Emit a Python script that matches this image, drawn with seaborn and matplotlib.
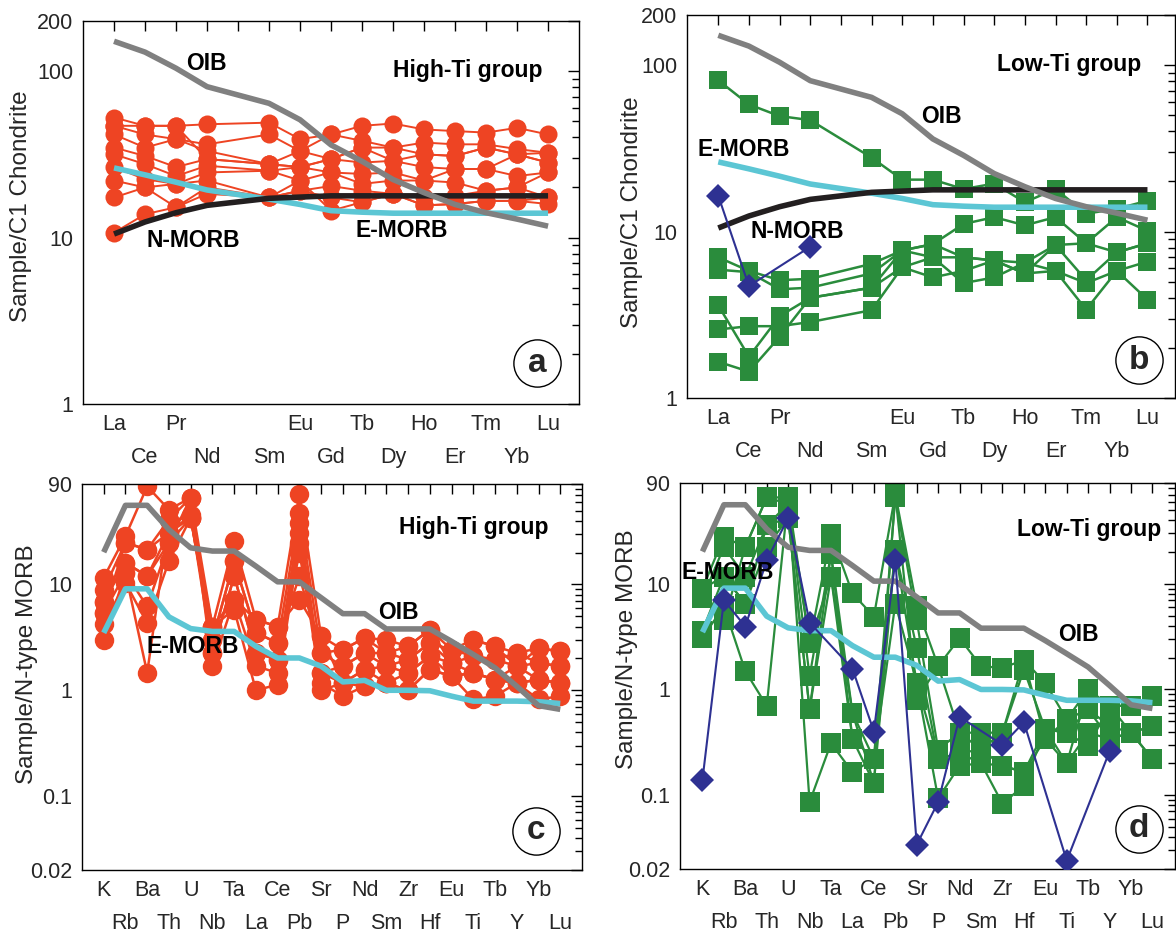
import numpy as np
import pandas as pd
import matplotlib
matplotlib.use('Agg')
import matplotlib.pyplot as plt
import seaborn as sns
from matplotlib.ticker import FixedLocator, FixedFormatter, LogLocator, NullFormatter

nan = np.nan

# ---------------- categories ----------------
REE_TICKS = ['La', 'Ce', 'Pr', 'Nd', '', 'Sm', 'Eu', 'Gd', 'Tb', 'Dy', 'Ho', 'Er', 'Tm', 'Yb', 'Lu']
REE = ['La', 'Ce', 'Pr', 'Nd', 'Sm', 'Eu', 'Gd', 'Tb', 'Dy', 'Ho', 'Er', 'Tm', 'Yb', 'Lu']
SPIDER = ['K', 'Rb', 'Ba', 'Th', 'U', 'Nb', 'Ta', 'La', 'Ce', 'Pb', 'Sr', 'P', 'Nd', 'Sm',
          'Zr', 'Hf', 'Eu', 'Ti', 'Tb', 'Y', 'Yb', 'Lu']

# ---------------- reference curves ----------------
OIB_REE = [151, 130, 104, 80.6, 64, 51, 36, 28.7, 22.3, 18.6, 15.8, 14.1, 12.9, 11.7]
EMORB_REE = [26.2, 23.8, 21.5, 19.3, 17.0, 15.8, 14.5, 14.2, 14.0, 14.0, 14.0, 14.0, 14.0, 14.0]
NMORB_REE = [10.5, 12.4, 14.1, 15.6, 17.2, 17.5, 17.8, 17.8, 17.8, 17.8, 17.8, 17.8, 17.8, 17.8]

OIB_SPIDER = [20.2, 56, 56, 33, 22.2, 20.7, 20.7, 14.9, 10.6, 10.6, 7.5, 5.3, 5.3, 3.8,
              3.8, 3.8, 2.9, 2.18, 1.63, 1.09, 0.716, 0.66]
EMORB_SPIDER = [3.49, 9.1, 9.1, 4.94, 3.83, 3.6, 3.6, 2.6, 2.02, 2.02, 1.69, 1.2, 1.24, 1.0,
                1.0, 0.99, 0.88, 0.79, 0.79, 0.79, 0.78, 0.75]

# ---------------- samples: chondrite-normalised REE ----------------
HIGH_TI_REE = [
    [52.6, 46.9, 46.9, 47.9, 49.0, 39.0, 41.6, 46.9, 48.4, 44.6, 43.6, 42.7, 45.6, 41.6],
    [46.9, 41.6, 39.0, 36.3, 41.6, 33.1, 41.6, 38.1, 34.7, 37.2, 36.3, 36.3, 34.0, 32.3],
    [41.6, 34.7, 39.0, 33.1, 27.6, 33.1, 29.6, 34.7, 34.7, 31.6, 30.9, 34.7, 31.6, 28.2],
    [34.7, 30.9, 26.5, 29.6, 27.6, 26.5, 29.6, 28.2, 28.9, 26.5, 25.8, 25.8, 31.6, 28.2],
    [31.6, 27.6, 23.4, 27.0, 25.2, 26.5, 24.6, 24.1, 24.6, 22.0, 25.8, 25.8, 23.4, 24.6],
    [26.5, 22.4, 21.0, 24.6, 25.2, 22.0, 24.6, 21.0, 22.0, 22.0, 21.4, 19.1, 20.0, 24.6],
    [22.0, 20.0, 21.0, 22.0, 17.4, 19.1, 20.4, 19.1, 18.3, 17.4, 17.8, 19.1, 20.0, 17.4],
    [17.4, 20.0, 15.2, 20.0, 17.4, 19.1, 17.4, 16.3, 18.3, 15.6, 15.9, 16.6, 16.6, 15.9],
    [10.7, 13.8, 15.2, 18.3, 17.4, 22.0, 14.5, 16.3, 18.3, 15.6, 15.9, 16.6, 16.6, 17.4],
    [46.9, 46.9, 46.9, 29.6, 27.6, 26.5, 29.6, 34.7, 28.9, 31.6, 30.9, 34.7, 31.6, 32.3],
]
LOW_TI_REE = [
    [81.0, 58.0, 49.4, 46.7, 27.8, 20.5, 20.5, 18.0, 19.4, 15.0, 18.0, 12.8, 13.7, 15.3],
    [7.0, 5.8, 5.1, 5.2, 6.4, 7.7, 8.4, 11.1, 12.2, 10.9, 12.2, 8.5, 12.2, 10.1],
    [5.9, 5.7, 4.5, 4.6, 5.6, 7.7, 7.0, 7.0, 6.7, 6.5, 8.3, 5.1, 7.5, 8.5],
    [3.6, 1.77, 3.1, 4.0, 4.6, 6.1, 5.3, 5.8, 6.7, 5.6, 5.8, 3.4, 5.8, 6.6],
    [2.58, 2.7, 2.7, 2.86, 3.37, 6.1, 7.0, 4.9, 5.3, 6.5, 5.8, 4.9, 5.8, 3.9],
    [1.65, 1.44, 2.33, 4.0, 4.6, 7.7, 8.4, 7.0, 6.7, 5.6, 8.3, 8.5, 7.5, 8.5],
]
LOW_TI_REE_DIAMOND = [16.4, 4.7, nan, 8.1, nan, nan, nan, nan, nan, nan, nan, nan, nan, nan]

# ---------------- samples: N-MORB-normalised trace elements ----------------
HIGH_TI_SPIDER = [
    [11.6, 28.6, 84.6, 51, 66, 4.0, 25.6, 4.66, 4.0, 71, 3.24, 2.42, 3.12, 3.0, 2.6, 3.75, 2.42, 3.0, 2.6, 2.25, 2.5, 2.33],
    [8.95, 24.8, 21.4, 41, 42.6, 3.0, 16.6, 3.5, 2.8, 47.6, 2.25, 1.69, 2.25, 2.25, 1.95, 2.8, 1.81, 2.1, 1.95, 1.69, 1.81, 1.69],
    [6.9, 16, 12, 30.8, 45, 2.25, 12, 2.25, 1.95, 38.4, 1.46, 1.17, 1.57, 1.69, 1.46, 2.1, 1.36, 1.46, 1.26, 1.17, 1.26, 1.17],
    [5.4, 12.8, 6.2, 24.8, 66, 1.69, 7.2, 1.69, 1.46, 30.8, 1.17, 0.88, 1.09, 1.17, 1.0, 1.57, 1.36, 0.82, 0.88, 1.17, 0.82, 0.88],
    [4.2, 10.4, 4.3, 16.6, 42.6, 4.0, 5.8, 1.0, 1.13, 24.8, 1.0, 1.17, 1.57, 1.17, 1.46, 2.1, 1.81, 1.46, 1.26, 1.69, 1.26, 1.17],
    [3.0, 12.8, 1.46, 41, 66, 2.25, 12, 2.25, 1.95, 19.9, 1.46, 1.69, 2.25, 1.69, 1.95, 2.8, 2.42, 2.1, 1.95, 2.25, 1.81, 1.69],
    [6.9, 16, 12, 24.8, 42.6, 3.0, 16.6, 3.5, 2.8, 12, 2.25, 2.42, 3.12, 2.25, 2.6, 3.75, 1.81, 3.0, 2.6, 1.69, 2.5, 2.33],
    [5.4, 24.8, 21.4, 30.8, 42.6, 4.0, 7.2, 4.66, 4.0, 7.2, 3.24, 1.17, 1.09, 1.17, 1.0, 1.57, 1.36, 1.46, 1.26, 1.17, 1.26, 1.17],
]
LOW_TI_SPIDER = [
    [9.0, 27.7, 22.3, 65.7, 65.7, 2.75, 29.7, 8.1, 4.9, 70.8, 6.1, 1.66, 3.06, 1.66, 1.6, 1.9, 1.15, 0.52, 1.0, 0.70, 0.70, 0.87],
    [7.3, 22.3, 11.7, 35.7, 57, 1.33, 19.2, 0.6, 0.22, 65.7, 4.5, 0.27, 0.39, 0.39, 0.39, 1.54, 0.42, 0.39, 0.65, 0.45, 0.39, 0.45],
    [3.6, 11.7, 6.5, 22.3, 42, 0.65, 11.7, 0.34, 0.13, 20.7, 2.46, 0.22, 0.25, 0.27, 0.19, 0.165, 0.34, 0.2, 0.39, 0.34, 0.39, 0.22],
    [3.1, 6.1, 1.49, 0.70, 65.7, 0.086, 0.31, 0.165, 0.22, 6.5, 1.15, 0.093, 0.19, 0.2, 0.083, 0.123, 0.42, 0.39, 0.29, 0.70, 0.70, 0.87],
    [8.0, 4.5, 22.3, 65.7, 57, 2.75, 11.7, 0.6, 0.13, 70.8, 0.8, 1.66, 0.39, 0.27, 0.39, 1.9, 0.34, 0.52, 0.65, 0.34, 0.39, 0.45],
    [9.0, 11.7, 6.5, 35.7, 42, 0.65, 19.2, 0.34, 0.22, 20.7, 1.15, 0.22, 0.25, 0.2, 0.19, 0.165, 0.42, 0.2, 1.0, 0.70, 0.39, 0.22],
]
LOW_TI_SPIDER_DIAMOND = [0.14, 7.0, 3.94, 16.7, 42, 4.3, nan, 1.57, 0.40, 16.7, 0.034, 0.086, 0.55, nan,
                         0.30, 0.49, nan, 0.024, nan, 0.26, nan, nan]

# ---------------- styling ----------------
RED = '#EE4423'
GREEN = '#2A8C3C'
BLUE = '#2E3192'
GRAY = '#808080'
CYAN = '#5CC6D4'
BLACK = '#231F20'

sns.set_style('white')
plt.rcParams['font.family'] = ['Liberation Sans', 'DejaVu Sans']
plt.rcParams['axes.linewidth'] = 1.0
plt.rcParams['axes.edgecolor'] = 'black'

TICK_FS = 15.5
LABEL_FS = 17.5
BOLD_FS = 16.5

fig = plt.figure(figsize=(11.76, 9.36), dpi=100)
ax_a = fig.add_axes([0.0706, 0.5684, 0.4218, 0.4092])
ax_b = fig.add_axes([0.5842, 0.5748, 0.4150, 0.4092])
ax_c = fig.add_axes([0.0697, 0.0705, 0.4252, 0.4129])
ax_d = fig.add_axes([0.5782, 0.0716, 0.4209, 0.4124])

ree_pos = [REE_TICKS.index(e) for e in REE]
spider_pos = list(range(len(SPIDER)))


def longform(rows, positions):
    recs = []
    for i, row in enumerate(rows):
        for p, v in zip(positions, row):
            if np.isfinite(v):
                recs.append({'sample': i, 'pos': p, 'val': v})
    return pd.DataFrame(recs)


def samples(ax, rows, positions, color, marker, ms, lw, z):
    df = longform(rows, positions)
    sns.lineplot(data=df, x='pos', y='val', units='sample', estimator=None, sort=False,
                 color=color, lw=lw, marker=marker, markersize=ms, markeredgecolor=color,
                 markeredgewidth=0, ax=ax, legend=False, zorder=z)


def refline(ax, positions, vals, color, z=3):
    df = longform([vals], positions)
    sns.lineplot(data=df, x='pos', y='val', estimator=None, sort=False, color=color, lw=4.0,
                 ax=ax, legend=False, zorder=z, solid_capstyle='butt', solid_joinstyle='round')


def style(ax, xlim, ylim, yticks, ylabels, xlabels, ylabel, label_xy):
    ax.set_xlim(*xlim)
    ax.set_ylim(*ylim)
    ax.yaxis.set_major_locator(FixedLocator(yticks))
    ax.yaxis.set_major_formatter(FixedFormatter(ylabels))
    ax.yaxis.set_minor_locator(LogLocator(base=10, subs=np.arange(2, 10), numticks=50))
    ax.yaxis.set_minor_formatter(NullFormatter())
    even = [i for i in range(len(xlabels)) if i % 2 == 0]
    odd = [i for i in range(len(xlabels)) if i % 2 == 1]
    ax.set_xticks(even)
    ax.set_xticklabels([xlabels[i] for i in even])
    ax.set_xticks(odd, minor=True)
    ax.set_xticklabels([xlabels[i] for i in odd], minor=True)
    ax.tick_params(axis='both', which='both', direction='in', top=True, right=True,
                   width=1.0, labelsize=TICK_FS, color='black')
    ax.tick_params(axis='x', which='both', length=7)
    ax.tick_params(axis='x', which='major', pad=7)
    ax.tick_params(axis='x', which='minor', pad=31)
    ax.tick_params(axis='y', which='major', length=8, pad=7)
    ax.tick_params(axis='y', which='minor', length=5)
    ax.set_xlabel('')
    ax.set_ylabel(ylabel, fontsize=LABEL_FS)
    ax.yaxis.set_label_coords(*label_xy)
    for s in ax.spines.values():
        s.set_linewidth(1.0)
        s.set_color('black')


def tag(ax, letter, x, y):
    ax.plot([x], [y], 'o', transform=ax.transAxes, ms=34, mfc='none', mec='black',
            mew=1.0, clip_on=False, zorder=6)
    ax.text(x, y, letter, transform=ax.transAxes, ha='center', va='center',
            fontsize=24, fontweight='bold', zorder=7)


def note(ax, x, y, s):
    ax.text(x, y, s, ha='left', va='center', fontsize=BOLD_FS, fontweight='bold',
            color='black', zorder=8)


for ax in (ax_a, ax_b, ax_c, ax_d):
    ax.set_yscale('log')

# ---- panel a ----
samples(ax_a, HIGH_TI_REE, ree_pos, RED, 'o', 13, 1.4, 2)
refline(ax_a, ree_pos, EMORB_REE, CYAN)
refline(ax_a, ree_pos, NMORB_REE, BLACK)
refline(ax_a, ree_pos, OIB_REE, GRAY)
style(ax_a, (-1, 15), (1, 200), [1, 10, 100, 200], ['1', '10', '100', '200'],
      REE_TICKS, 'Sample/C1 Chondrite', (-0.102, 0.517))
note(ax_a, 2.33, 111, 'OIB')
note(ax_a, 9.0, 101, 'High-Ti group')
note(ax_a, 1.04, 9.55, 'N-MORB')
note(ax_a, 7.8, 11.0, 'E-MORB')
tag(ax_a, 'a', 0.916, 0.106)

# ---- panel b ----
samples(ax_b, LOW_TI_REE, ree_pos, GREEN, 's', 13.5, 1.8, 2)
refline(ax_b, ree_pos, EMORB_REE, CYAN)
refline(ax_b, ree_pos, NMORB_REE, BLACK)
refline(ax_b, ree_pos, OIB_REE, GRAY)
samples(ax_b, [LOW_TI_REE_DIAMOND], ree_pos, BLUE, 'D', 12, 1.5, 5)
style(ax_b, (-1.02, 14.9), (1, 200), [1, 10, 100, 200], ['1', '10', '100', '200'],
      REE_TICKS, 'Sample/C1 Chondrite', (-0.091, 0.486))
note(ax_b, 9.09, 100.5, 'Low-Ti group')
note(ax_b, 6.62, 49.3, 'OIB')
note(ax_b, -0.67, 31.2, 'E-MORB')
note(ax_b, 1.04, 10.0, 'N-MORB')
tag(ax_b, 'b', 0.927, 0.099)

# ---- panel c ----
samples(ax_c, HIGH_TI_SPIDER, spider_pos, RED, 'o', 14, 1.8, 2)
refline(ax_c, spider_pos, EMORB_SPIDER, CYAN)
refline(ax_c, spider_pos, OIB_SPIDER, GRAY)
style(ax_c, (-1, 22), (0.02, 90), [0.02, 0.1, 1, 10, 90], ['0.02', '0.1', '1', '10', '90'],
      SPIDER, 'Sample/N-type MORB', (-0.088, 0.533))
note(ax_c, 13.6, 34.4, 'High-Ti group')
note(ax_c, 12.6, 5.4, 'OIB')
note(ax_c, 1.97, 2.6, 'E-MORB')
tag(ax_c, 'c', 0.909, 0.102)

# ---- panel d ----
samples(ax_d, LOW_TI_SPIDER, spider_pos, GREEN, 's', 14.5, 1.6, 2)
refline(ax_d, spider_pos, EMORB_SPIDER, CYAN)
refline(ax_d, spider_pos, OIB_SPIDER, GRAY)
samples(ax_d, [LOW_TI_SPIDER_DIAMOND], spider_pos, BLUE, 'D', 12, 1.5, 5)
style(ax_d, (-1.05, 22.05), (0.02, 90), [0.02, 0.1, 1, 10, 90], ['0.02', '0.1', '1', '10', '90'],
      SPIDER, 'Sample/N-type MORB', (-0.084, 0.569))
note(ax_d, 14.7, 33, 'Low-Ti group')
note(ax_d, 16.6, 3.3, 'OIB')
note(ax_d, -0.96, 12.7, 'E-MORB')
tag(ax_d, 'd', 0.927, 0.104)

fig.savefig('out.png', dpi=100)
